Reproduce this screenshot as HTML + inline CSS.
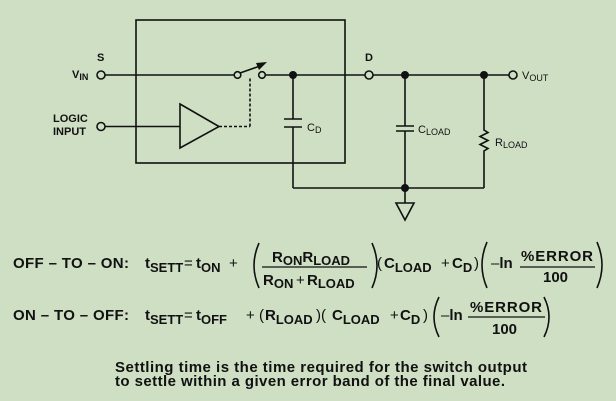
<!DOCTYPE html>
<html><head><meta charset="utf-8"><style>
html,body{margin:0;padding:0;background:#cfdfc4;}
svg{display:block}
text{font-family:"Liberation Sans",Arial,sans-serif;font-weight:bold;fill:#111}
.n{font-weight:normal}
</style></head><body>
<svg width="616" height="401" viewBox="0 0 616 401" xmlns="http://www.w3.org/2000/svg">
<rect width="616" height="401" fill="#cfdfc4"/>
<g stroke="#111" stroke-width="1.6" fill="none">
  <rect x="136" y="20" width="209" height="143"/>
  <line x1="105" y1="75" x2="234" y2="75"/>
  <circle cx="101" cy="75" r="4"/>
  <circle cx="237.5" cy="75" r="3.3"/>
  <circle cx="262" cy="75" r="3.3"/>
  <line x1="240" y1="73" x2="260" y2="66"/>
  <line x1="265.5" y1="75" x2="365" y2="75"/>
  <circle cx="369" cy="75" r="4"/>
  <line x1="373" y1="75" x2="509" y2="75"/>
  <circle cx="513" cy="75" r="4"/>
  <circle cx="101" cy="126.5" r="4"/>
  <line x1="105" y1="126.5" x2="180" y2="126.5"/>
  <polygon points="180,104 219,126.5 180,148"/>
  <line x1="219" y1="126.5" x2="250" y2="126.5" stroke-dasharray="3,2"/>
  <line x1="250" y1="126.5" x2="250" y2="78" stroke-dasharray="3,2"/>
  <line x1="293" y1="75" x2="293" y2="119"/>
  <line x1="284" y1="119" x2="302" y2="119"/>
  <line x1="284" y1="127" x2="302" y2="127"/>
  <line x1="293" y1="127" x2="293" y2="188"/>
  <line x1="293" y1="188" x2="484" y2="188"/>
  <line x1="405" y1="75" x2="405" y2="126"/>
  <line x1="396" y1="126" x2="414" y2="126"/>
  <line x1="396" y1="131" x2="414" y2="131"/>
  <line x1="405" y1="131" x2="405" y2="203"/>
  <polygon points="396,203 414,203 405,220"/>
  <polyline points="484,75 484,130 488,132.5 480,136.5 488,140.5 480,144.5 488,148.5 484,151 484,188"/>
  <path d="M259,243 Q249,265.5 259,288"/>
  <path d="M372,243 Q382,265.5 372,288"/>
  <path d="M487,242 Q477,265 487,288"/>
  <path d="M597,242 Q607,265 597,288"/>
  <path d="M439,297 Q429,317 439,337"/>
  <path d="M544,297 Q554,317 544,337"/>
  <line x1="262" y1="267" x2="367" y2="267" stroke-width="1.2"/>
  <line x1="520" y1="267" x2="595" y2="267" stroke-width="1.2"/>
  <line x1="468" y1="317" x2="545" y2="317" stroke-width="1.2"/>
</g>
<g fill="#111">
  <polygon points="267,62 256,63 259,70"/>
  <circle cx="293" cy="75" r="4"/>
  <circle cx="405" cy="75" r="4"/>
  <circle cx="484" cy="75" r="4"/>
  <circle cx="405" cy="188" r="4"/>
</g>
<g font-size="11">
  <text x="97" y="61">S</text>
  <text x="365" y="61">D</text>
  <text x="72" y="78">V<tspan font-size="9" dy="2">IN</tspan></text>
  <text x="53" y="122">LOGIC</text>
  <text x="53" y="135">INPUT</text>
  <text x="307" y="131" class="n">C<tspan font-size="9" dy="2">D</tspan></text>
  <text x="418" y="133" class="n">C<tspan font-size="9" dy="2">LOAD</tspan></text>
  <text x="495" y="146" class="n">R<tspan font-size="9" dy="2">LOAD</tspan></text>
  <text x="522" y="79" class="n">V<tspan font-size="9" dy="2">OUT</tspan></text>
</g>
<g font-size="15">
  <text x="13" y="268" textLength="116">OFF – TO – ON:</text>
  <text x="145" y="268">t<tspan font-size="13" dy="4">SETT</tspan></text>
  <text x="184" y="268" class="n">=</text>
  <text x="196" y="268">t<tspan font-size="13" dy="4">ON</tspan></text>
  <text x="229" y="268" class="n">+</text>
  <text x="272" y="262">R<tspan font-size="13" dy="3">ON</tspan><tspan dy="-3">R</tspan><tspan font-size="13" dy="3">LOAD</tspan></text>
  <text x="263" y="285">R<tspan font-size="13" dy="3">ON</tspan></text>
  <text x="296" y="285" class="n">+</text>
  <text x="307" y="285">R<tspan font-size="13" dy="3">LOAD</tspan></text>
  <text x="377" y="268" class="n">(</text>
  <text x="384" y="268">C<tspan font-size="13" dy="4">LOAD</tspan></text>
  <text x="441" y="268" class="n">+</text>
  <text x="452" y="268">C<tspan font-size="13" dy="4">D</tspan></text>
  <text x="474" y="268" class="n">)</text>
  <text x="491" y="268"><tspan class="n">–</tspan>ln</text>
  <text x="521" y="261" textLength="72">%ERROR</text>
  <text x="543" y="282">100</text>

  <text x="13" y="320" textLength="116">ON – TO – OFF:</text>
  <text x="145" y="320">t<tspan font-size="13" dy="4">SETT</tspan></text>
  <text x="184" y="320" class="n">=</text>
  <text x="196" y="320">t<tspan font-size="13" dy="4">OFF</tspan></text>
  <text x="246" y="320" class="n">+</text>
  <text x="259" y="320" class="n">(</text>
  <text x="265" y="320">R<tspan font-size="13" dy="4">LOAD</tspan></text>
  <text x="316" y="320" class="n">)(</text>
  <text x="332" y="320">C<tspan font-size="13" dy="4">LOAD</tspan></text>
  <text x="390" y="320" class="n">+</text>
  <text x="400" y="320">C<tspan font-size="13" dy="4">D</tspan></text>
  <text x="423" y="320" class="n">)</text>
  <text x="441" y="320"><tspan class="n">–</tspan>ln</text>
  <text x="470" y="312" textLength="72">%ERROR</text>
  <text x="492" y="334">100</text>
</g>
<g font-size="15">
  <text x="115" y="372" textLength="412">Settling time is the time required for the switch output</text>
  <text x="115" y="386" textLength="390">to settle within a given error band of the final value.</text>
</g>
</svg>
</body></html>
